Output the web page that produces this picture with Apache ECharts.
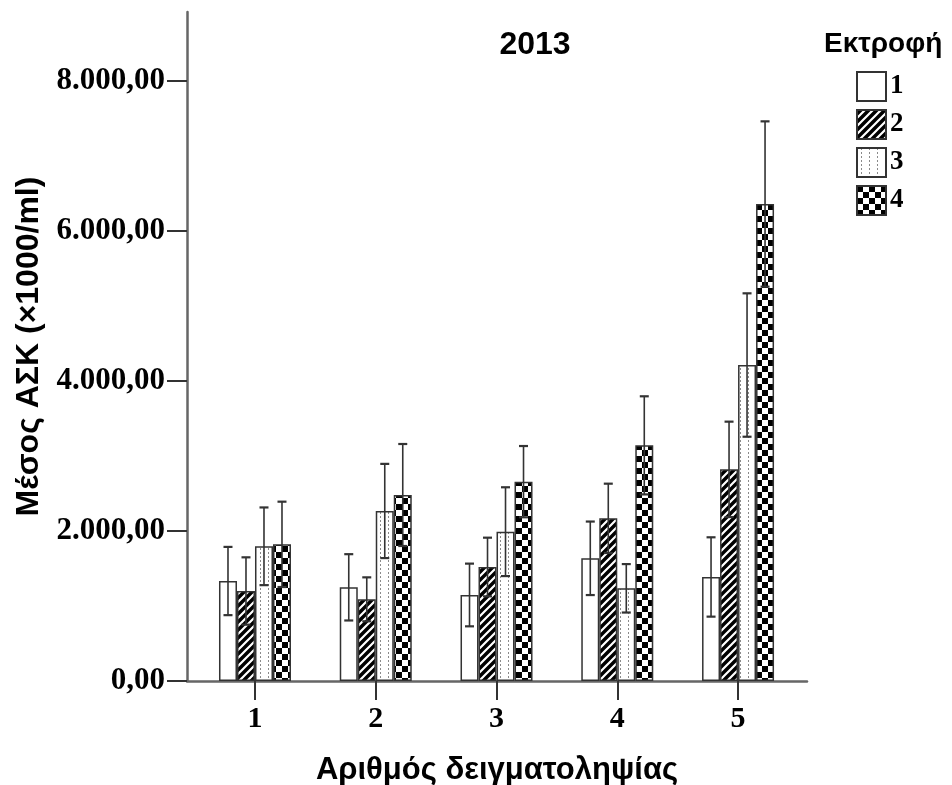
<!DOCTYPE html>
<html>
<head>
<meta charset="utf-8">
<script src="https://cdn.jsdelivr.net/npm/echarts@6/dist/echarts.min.js"></script>
<style>html,body{margin:0;padding:0;background:#fff}#c{width:952px;height:785px}</style>
</head>
<body>
<div id="c"></div>
<script>
// ---- data ----
const categories = ['1', '2', '3', '4', '5'];
const seriesNames = ['1', '2', '3', '4'];
const mean1 = [1333, 1249, 1147, 1636, 1387];
const mean2 = [1200, 1089, 1520, 2169, 2822];
const mean3 = [1796, 2267, 1991, 1236, 4213];
const mean4 = [1822, 2480, 2658, 3142, 6360];
const err1 = [455, 442, 418, 490, 529];
const err2 = [449, 293, 391, 462, 636];
const err3 = [518, 628, 592, 323, 956];
const err4 = [569, 680, 475, 654, 1102];
const yTickValues = [0, 2000, 4000, 6000, 8000];
const titleText = '2013';
const legendTitle = 'Εκτροφή';
const xName = 'Αριθμός δειγματοληψίας';
const yName = 'Μέσος ΑΣΚ (×1000/ml)';

const means = [mean1, mean2, mean3, mean4];
const errs = [err1, err2, err3, err4];

// ---- patterns ----
function mk(w, h, draw) {
  const c = document.createElement('canvas');
  c.width = w; c.height = h;
  draw(c.getContext('2d'));
  return c;
}
const patStripes = mk(8, 8, g => {
  g.fillStyle = '#000'; g.fillRect(0, 0, 8, 8);
  g.strokeStyle = '#fff'; g.lineWidth = 2.2;
  g.beginPath();
  g.moveTo(-2, 10); g.lineTo(10, -2);
  g.moveTo(-6, 6); g.lineTo(6, -6);
  g.moveTo(2, 14); g.lineTo(14, 2);
  g.stroke();
});
const patDots = mk(8, 4, g => {
  g.fillStyle = '#fff'; g.fillRect(0, 0, 8, 4);
  g.fillStyle = '#8a8a8a'; g.fillRect(4, 0, 1, 2);
});
const patChecker = mk(12, 12, g => {
  g.fillStyle = '#fff'; g.fillRect(0, 0, 12, 12);
  g.fillStyle = '#000'; g.fillRect(0, 0, 6, 6); g.fillRect(6, 6, 6, 6);
});
const fills = [
  '#ffffff',
  { image: patStripes, repeat: 'repeat' },
  { image: patDots, repeat: 'repeat' },
  { image: patChecker, repeat: 'repeat' }
];

const BAR_W = 18;
const catVals = categories.map(c => Number(c));

function fmt(v) {
  return Math.round(v).toString().replace(/\B(?=(\d{3})+(?!\d))/g, '.') + ',00';
}

const barSeries = seriesNames.map((n, s) => ({
  name: n,
  type: 'bar',
  barWidth: BAR_W,
  barGap: '0%',
  data: catVals.map((x, i) => [x, means[s][i]]),
  itemStyle: { color: fills[s], borderColor: '#333', borderWidth: 1.5 },
  emphasis: { disabled: true },
  z: 2
}));

const errData = [];
seriesNames.forEach((n, s) => {
  catVals.forEach((x, i) => {
    errData.push([x, means[s][i] - errs[s][i], means[s][i] + errs[s][i], s]);
  });
});

const errSeries = {
  name: 'err',
  type: 'custom',
  z: 5,
  silent: true,
  data: errData,
  renderItem: function (params, api) {
    const x = api.value(0), lo = api.value(1), hi = api.value(2), s = api.value(3);
    const pLo = api.coord([x, lo]);
    const pHi = api.coord([x, hi]);
    const cx = pLo[0] + (s - 1.5) * BAR_W;
    const cap = 4.5;
    const st = { stroke: '#333', lineWidth: 1.6 };
    return {
      type: 'group',
      children: [
        { type: 'line', shape: { x1: cx, y1: pLo[1], x2: cx, y2: pHi[1] }, style: st },
        { type: 'line', shape: { x1: cx - cap, y1: pHi[1], x2: cx + cap, y2: pHi[1] }, style: { stroke: '#333', lineWidth: 2.2 } },
        { type: 'line', shape: { x1: cx - cap, y1: pLo[1], x2: cx + cap, y2: pLo[1] }, style: { stroke: '#333', lineWidth: 2.2 } }
      ]
    };
  }
};

const chart = echarts.init(document.getElementById('c'), null, { renderer: 'canvas', width: 952, height: 785 });
chart.setOption({
  animation: false,
  backgroundColor: '#fff',
  grid: { left: 187, width: 620, top: 12, height: 669, containLabel: false, outerBoundsMode: 'none' },
  xAxis: {
    type: 'value',
    min: 0.437,
    max: 5.571,
    name: xName,
    nameLocation: 'middle',
    nameGap: 74,
    nameTextStyle: { fontFamily: 'Liberation Sans', fontWeight: 'bold', fontSize: 31, color: '#000' },
    axisLine: { show: true, onZero: false, lineStyle: { color: '#666', width: 2.5 } },
    axisTick: { show: true, length: 19, customValues: catVals, lineStyle: { color: '#333', width: 2 } },
    axisLabel: {
      customValues: catVals,
      margin: 23,
      formatter: v => categories[catVals.indexOf(v)] || '',
      fontFamily: 'Liberation Serif', fontWeight: 'bold', fontSize: 30, color: '#000'
    },
    splitLine: { show: false }
  },
  yAxis: {
    type: 'value',
    min: 0,
    max: 8920,
    name: yName,
    nameLocation: 'middle',
    nameGap: 140,
    nameRotate: 90,
    nameTextStyle: { fontFamily: 'Liberation Sans', fontWeight: 'bold', fontSize: 32, color: '#000' },
    axisLine: { show: true, lineStyle: { color: '#666', width: 2.5 } },
    axisTick: { show: true, length: 20, customValues: yTickValues, lineStyle: { color: '#333', width: 2 } },
    axisLabel: {
      customValues: yTickValues,
      margin: 22,
      formatter: fmt,
      fontFamily: 'Liberation Serif', fontWeight: 'bold', fontSize: 31, color: '#000'
    },
    splitLine: { show: false }
  },
  legend: {
    data: seriesNames,
    orient: 'vertical',
    left: 856,
    top: 71,
    padding: 0,
    itemWidth: 29,
    itemHeight: 29,
    itemGap: 7,
    icon: 'rect',
    selectedMode: false,
    textStyle: { fontFamily: 'Liberation Serif', fontWeight: 'bold', fontSize: 27, color: '#000', padding: [0, 0, 0, -1] }
  },
  graphic: [
    {
      type: 'text', x: 535, y: 45,
      style: { text: titleText, textAlign: 'center', textVerticalAlign: 'middle', fontFamily: 'Liberation Sans', fontWeight: 'bold', fontSize: 32, fill: '#000' }
    },
    {
      type: 'text', x: 824, y: 44,
      style: { text: legendTitle, textAlign: 'left', textVerticalAlign: 'middle', fontFamily: 'Liberation Sans', fontWeight: 'bold', fontSize: 28, fill: '#000' }
    }
  ],
  series: barSeries.concat([errSeries])
});
</script>
</body>
</html>
